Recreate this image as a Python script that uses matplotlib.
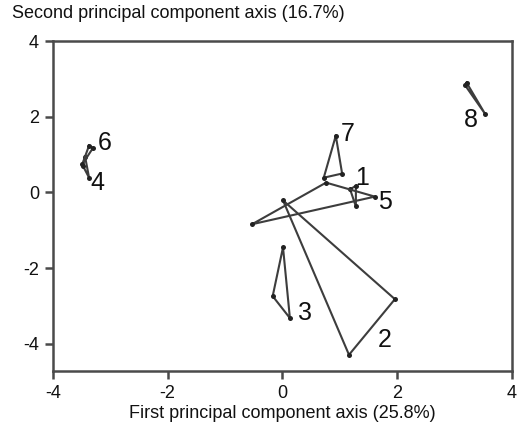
import matplotlib
matplotlib.use("Agg")
import matplotlib.pyplot as plt

plt.rcParams['font.family'] = ['Liberation Sans', 'DejaVu Sans']

groups = ["1", "2", "3", "4", "5", "6", "7", "8"]
pc1 = {
    "1": [1.18, 1.28, 1.28],
    "2": [0.01, 1.96, 1.16],
    "3": [0.01, -0.17, 0.13],
    "4": [-3.44, -3.48, -3.37],
    "5": [-0.53, 0.76, 1.61],
    "6": [-3.37, -3.30, -3.49],
    "7": [0.93, 1.04, 0.72],
    "8": [3.21, 3.18, 3.53],
}
pc2 = {
    "1": [0.08, 0.18, -0.37],
    "2": [-0.21, -2.82, -4.29],
    "3": [-1.45, -2.74, -3.32],
    "4": [0.95, 0.71, 0.39],
    "5": [-0.84, 0.26, -0.11],
    "6": [1.24, 1.18, 0.74],
    "7": [1.50, 0.50, 0.39],
    "8": [2.90, 2.84, 2.08],
}
label_x = {"1": 1.38, "2": 1.79, "3": 0.39, "4": -3.23, "5": 1.79, "6": -3.09, "7": 1.14, "8": 3.28}
label_y = {"1": 0.37, "2": -3.90, "3": -3.18, "4": 0.26, "5": -0.26, "6": 1.32, "7": 1.55, "8": 1.92}
xticks = [-4, -2, 0, 2, 4]
yticks = [-4, -2, 0, 2, 4]

fig = plt.figure(figsize=(5.24, 4.28), dpi=100)
ax = fig.add_axes([0.101, 0.133, 0.876, 0.771])

lc = '#3d3d3d'
for g in groups:
    xs = pc1[g] + [pc1[g][0]]
    ys = pc2[g] + [pc2[g][0]]
    ax.plot(xs, ys, color=lc, lw=1.5, solid_joinstyle='round')
    ax.plot(pc1[g], pc2[g], 'o', color='#222222', ms=3.6, mew=0)
    ax.text(label_x[g], label_y[g], g, fontsize=18, ha='center', va='center', color='#111111')

ax.set_xlim(-4, 4)
ax.set_ylim(-4.72, 4)
ax.set_xticks(xticks)
ax.set_yticks(yticks)
ax.set_xticklabels([str(t) for t in xticks])
ax.set_yticklabels([str(t) for t in yticks])
for s in ax.spines.values():
    s.set_color('#4a4a4a')
    s.set_linewidth(1.8)
ax.tick_params(direction='out', length=6, width=1.8, color='#4a4a4a', labelsize=13, pad=4, labelcolor='#111111')

ax.set_xlabel('First principal component axis (25.8%)', fontsize=13, color='#111111', labelpad=2)
fig.text(12/524, 1 - 14/428, 'Second principal component axis (16.7%)', fontsize=13,
         ha='left', va='center', color='#111111')

fig.savefig('out.png', dpi=100)
